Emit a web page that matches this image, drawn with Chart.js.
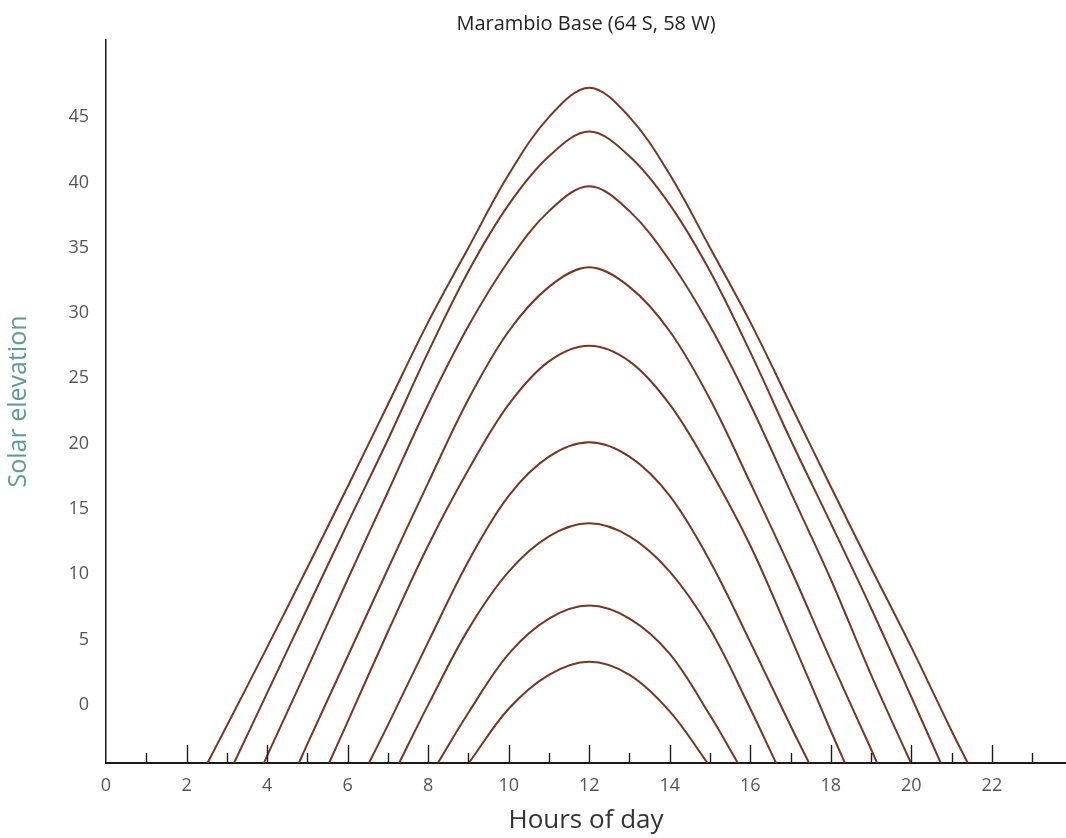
<!DOCTYPE html>
<html>
<head>
<meta charset="utf-8">
<script src="https://cdn.jsdelivr.net/npm/chart.js@4/dist/chart.umd.min.js"></script>
<style>
  html, body { margin: 0; padding: 0; background: #fff; }
  #wrap { width: 1066px; height: 838px; position: relative; }
</style>
</head>
<body>
<div id="wrap"><canvas id="sunChart"></canvas></div>
<script>
// hours on the axis and the labels shown
const hourTicks = [0, 1, 2, 3, 4, 5, 6, 7, 8, 9, 10, 11, 12, 13, 14, 15, 16, 17, 18, 19, 20, 21, 22, 23];
const elevTicks = [0, 5, 10, 15, 20, 25, 30, 35, 40, 45];

// one curve per date (hour, elevation)
const c1Hours = [2.52, 3, 4, 5, 6, 7, 8, 9, 10, 11, 12, 13, 14, 15, 16, 17, 18, 19, 20, 21, 21.40];
const c1Elev  = [-4.45, -1.6, 4.4, 10.5, 16.7, 23.0, 29.3, 35.0, 40.6, 45.0, 47.25, 45.0, 40.6, 35.0, 29.3, 23.0, 16.7, 10.5, 4.4, -2.0, -4.45];

const c2Hours = [3.18, 4, 5, 6, 7, 8, 9, 10, 11, 12, 13, 14, 15, 16, 17, 18, 19, 20, 20.73];
const c2Elev  = [-4.45, 0.9, 7.4, 13.9, 20.3, 27.0, 33.2, 38.3, 42.0, 43.9, 42.0, 38.3, 33.2, 27.0, 20.3, 13.9, 7.4, 0.6, -4.45];

const c3Hours = [3.92, 4, 5, 6, 7, 8, 9, 10, 11, 12, 13, 14, 15, 16, 17, 18, 19, 19.99];
const c3Elev  = [-4.45, -3.9, 2.8, 9.6, 16.3, 23.0, 29.0, 34.0, 37.8, 39.7, 37.8, 34.0, 29.0, 23.0, 16.3, 9.6, 2.3, -4.45];

const c4Hours = [4.79, 5, 6, 7, 8, 9, 10, 11, 12, 13, 14, 15, 16, 17, 18, 19, 19.15];
const c4Elev  = [-4.45, -3.0, 3.7, 10.4, 17.0, 23.4, 28.6, 32.0, 33.5, 32.0, 28.6, 23.4, 17.0, 10.4, 3.4, -3.4, -4.45];

const c5Hours = [5.54, 6, 7, 8, 9, 10, 11, 12, 13, 14, 15, 16, 17, 18, 18.35];
const c5Elev  = [-4.45, -1.3, 5.6, 12.2, 18.0, 23.0, 26.3, 27.5, 26.3, 23.0, 18.0, 12.2, 5.2, -2.0, -4.45];

const c6Hours = [6.53, 7, 8, 9, 10, 11, 12, 13, 14, 15, 16, 17, 17.46];
const c6Elev  = [-4.45, -1.55, 4.8, 11.0, 16.0, 19.0, 20.1, 19.0, 16.0, 11.0, 4.8, -1.6, -4.45];

const c7Hours = [7.28, 8, 9, 10, 11, 12, 13, 14, 15, 16, 16.64];
const c7Elev  = [-4.45, 0.0, 5.8, 10.2, 12.9, 13.9, 12.9, 10.2, 5.8, -0.3, -4.45];

const c8Hours = [8.24, 9, 10, 11, 12, 13, 14, 15, 15.69];
const c8Elev  = [-4.45, -0.6, 3.9, 6.6, 7.6, 6.6, 3.9, -0.8, -4.45];

const c9Hours = [9.01, 10, 11, 12, 13, 14, 14.94];
const c9Elev  = [-4.45, -0.3, 2.3, 3.3, 2.3, -0.5, -4.45];

const curves = [
    [c1Hours, c1Elev], [c2Hours, c2Elev], [c3Hours, c3Elev],
    [c4Hours, c4Elev], [c5Hours, c5Elev], [c6Hours, c6Elev],
    [c7Hours, c7Elev], [c8Hours, c8Elev], [c9Hours, c9Elev]
];

const lineColor = '#7a3520';
const axisColor = '#1a1a1a';

// short marks standing up from the hour axis: long on even hours, short on odd
const innerTicks = {
    id: 'innerTicks',
    afterDraw(chart) {
        const sx = chart.scales.x;
        const ctx = chart.ctx;
        const base = sx.top;
        ctx.save();
        ctx.strokeStyle = axisColor;
        ctx.lineWidth = 1.4;
        sx.ticks.forEach(t => {
            if (t.value === 0) return;
            const px = Math.round(sx.getPixelForValue(t.value)) + 0.5;
            const len = t.value % 2 === 0 ? 18 : 10;
            ctx.beginPath();
            ctx.moveTo(px, base);
            ctx.lineTo(px, base - len);
            ctx.stroke();
        });
        ctx.restore();
    }
};

const ctx = document.getElementById('sunChart').getContext('2d');
new Chart(ctx, {
    type: 'line',
    data: {
        datasets: curves.map(([hs, es]) => ({
            data: hs.map((h, i) => ({ x: h, y: es[i] })),
            borderColor: lineColor,
            borderWidth: 2,
            pointRadius: 0,
            fill: false,
            tension: 0.35
        }))
    },
    options: {
        responsive: true,
        maintainAspectRatio: false,
        animation: false,
        layout: { padding: { left: 0, right: 0, top: 0, bottom: 0 } },
        plugins: {
            legend: { display: false },
            tooltip: { enabled: false },
            title: {
                display: true,
                text: 'Marambio Base (64 S, 58 W)',
                fullSize: false,
                color: '#222',
                font: { family: 'Open Sans', size: 20, weight: 'normal' },
                padding: { top: 12, bottom: 4 }
            }
        },
        scales: {
            x: {
                type: 'linear',
                min: 0,
                max: 23.84,
                afterBuildTicks: s => { s.ticks = hourTicks.map(v => ({ value: v })); },
                afterFit: s => { s.height = 75; },
                grid: { display: false, drawTicks: false },
                border: { display: true, color: axisColor, width: 2 },
                ticks: {
                    autoSkip: false,
                    maxRotation: 0,
                    padding: 12,
                    color: '#555',
                    font: { family: 'Open Sans', size: 18 },
                    callback: v => (v % 2 === 0 && v <= 22 ? String(v) : '')
                },
                title: {
                    display: true,
                    text: 'Hours of day',
                    color: '#333',
                    font: { family: 'Open Sans', size: 26 },
                    padding: { top: 0, bottom: 2 }
                }
            },
            y: {
                type: 'linear',
                min: -4.45,
                max: 50.9,
                afterBuildTicks: s => { s.ticks = elevTicks.map(v => ({ value: v })); },
                afterFit: s => { s.width = 106; },
                grid: { display: false, drawTicks: false },
                border: { display: true, color: axisColor, width: 1.5 },
                ticks: {
                    padding: 17,
                    color: '#555',
                    font: { family: 'Open Sans', size: 18 }
                },
                title: {
                    display: true,
                    text: 'Solar elevation',
                    color: '#5e9c92',
                    font: { family: 'Open Sans', size: 25 },
                    padding: { top: 4, bottom: 0 }
                }
            }
        }
    },
    plugins: [innerTicks]
});
</script>
</body>
</html>
